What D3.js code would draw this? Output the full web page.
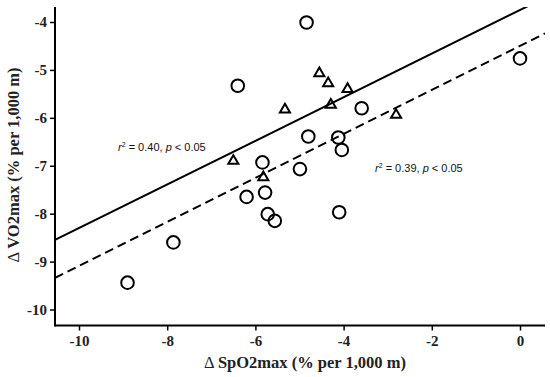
<!DOCTYPE html>
<html><head><meta charset="utf-8">
<script src="https://cdn.jsdelivr.net/npm/d3@7"></script>
<style>body{margin:0;background:#fff}</style>
</head><body>
<svg id="c" width="550" height="377"></svg>
<script>
const circleX = [-4.84,-6.40,0.00,-3.59,-4.80,-4.12,-4.04,-4.99,-5.84,-5.78,-6.20,-5.72,-5.56,-4.10,-7.86,-8.90];
const circleY = [-4.01,-5.33,-4.76,-5.80,-6.39,-6.41,-6.67,-7.07,-6.93,-7.56,-7.65,-8.01,-8.15,-7.97,-8.60,-9.44];
const triX = [-6.50,-5.82,-5.33,-4.55,-4.35,-3.91,-4.29,-2.81];
const triY = [-6.90,-7.24,-5.83,-5.07,-5.28,-5.40,-5.73,-5.94];
const fitSolid = [-3.75, 0.455];   // intercept, slope
const fitDashed = [-4.50, 0.459];
const xTicks = [-10,-8,-6,-4,-2,0];
const yTicks = [-4,-5,-6,-7,-8,-9,-10];

const svg = d3.select("#c");
const x = d3.scaleLinear().domain([-10, 0]).range([79, 520]);
const y = d3.scaleLinear().domain([-4, -10]).range([22, 309.5]);
const xMin = x.invert(55), xMax = x.invert(545);

svg.append("clipPath").attr("id","clip").append("rect")
  .attr("x",55).attr("y",7).attr("width",490).attr("height",318.5);

const serif = "'Liberation Serif','Times New Roman',serif";
// axes
const xa = svg.append("g").attr("transform","translate(0,325.5)")
  .call(d3.axisBottom(x).tickValues(xTicks).tickSize(5).tickPadding(5).tickFormat(d3.format("d")));
xa.select(".domain").remove();
xa.append("line").attr("x1",55).attr("x2",545).attr("stroke","#000").attr("stroke-width",2);
const ya = svg.append("g").attr("transform","translate(55,0)")
  .call(d3.axisLeft(y).tickValues(yTicks).tickSize(5).tickPadding(3).tickFormat(d3.format("d")));
ya.select(".domain").remove();
ya.append("line").attr("y1",7).attr("y2",326.5).attr("stroke","#000").attr("stroke-width",2);
[xa, ya].forEach(g => {
  g.selectAll(".tick line").attr("stroke","#000").attr("stroke-width",1.5);
  g.selectAll(".tick text").attr("font-family",serif).attr("font-weight","bold")
    .attr("font-size",15).attr("fill","#222");
});
ya.selectAll(".tick text").text(d => d < 0 ? "-" + Math.abs(d) : d);
xa.selectAll(".tick text").text(d => d < 0 ? "-" + Math.abs(d) : d);

// fit lines
const plot = svg.append("g").attr("clip-path","url(#clip)");
[[fitSolid,null],[fitDashed,"9,5"]].forEach(([f,dash]) => {
  plot.append("line")
    .attr("x1",x(xMin)).attr("y1",y(f[0]+f[1]*xMin))
    .attr("x2",x(xMax)).attr("y2",y(f[0]+f[1]*xMax))
    .attr("stroke","#000").attr("stroke-width",2)
    .attr("stroke-dasharray",dash);
});

// circles
plot.selectAll("circle.pt").data(circleX.map((v,i)=>[v,circleY[i]])).join("circle")
  .attr("cx",d=>x(d[0])).attr("cy",d=>y(d[1])).attr("r",6.3)
  .attr("fill","none").attr("stroke","#000").attr("stroke-width",2);
// triangles
const tri = d3.symbol().type(d3.symbolTriangle).size(44);
plot.selectAll("path.tri").data(triX.map((v,i)=>[v,triY[i]])).join("path")
  .attr("d",tri).attr("transform",d=>`translate(${x(d[0])},${y(d[1])})`)
  .attr("fill","none").attr("stroke","#000").attr("stroke-width",2).attr("stroke-linejoin","miter");

// annotations
function ann(px, py, letter, val){
  const t = svg.append("text").attr("x",px).attr("y",py)
    .attr("font-family","'Liberation Sans',Arial,sans-serif").attr("font-size",11).attr("fill","#111");
  t.append("tspan").attr("font-style","italic").text(letter);
  t.append("tspan").attr("font-size",7).attr("dy",-4).text("2");
  t.append("tspan").attr("dy",4).text(" = " + val + ", ");
  t.append("tspan").attr("font-style","italic").text("p");
  t.append("tspan").text(" < 0.05");
}
ann(118, 151, "r", "0.40");
ann(375, 172, "r", "0.39");

// axis labels
function axisLabel(sel, main){
  sel.attr("font-family",serif).attr("font-size",16.5).attr("fill","#222");
  sel.append("tspan").attr("font-weight","normal").text("\u0394 ");
  sel.append("tspan").attr("font-weight","bold").text(main);
}
axisLabel(svg.append("text").attr("x",305).attr("y",368).attr("text-anchor","middle"),
  "SpO2max (% per 1,000 m)");
axisLabel(svg.append("text").attr("transform","translate(19,165) rotate(-90)").attr("text-anchor","middle"),
  "VO2max (% per 1,000 m)");
</script>
</body></html>
